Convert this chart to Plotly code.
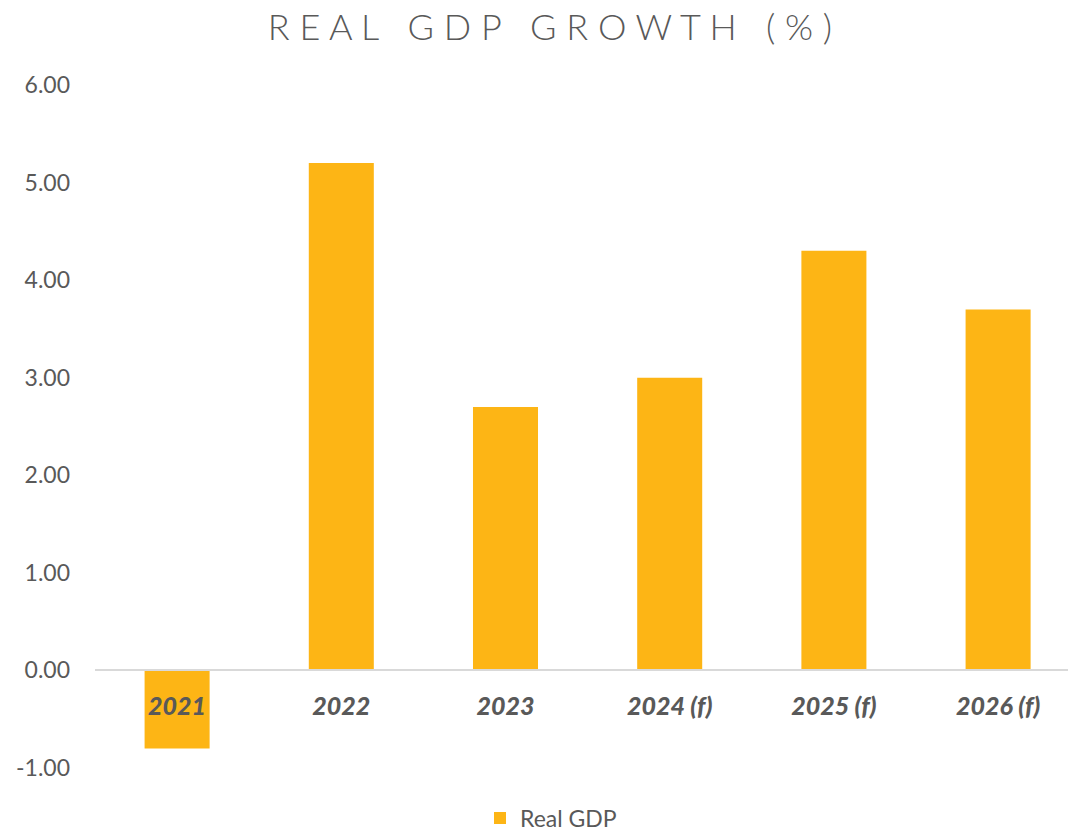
import plotly.graph_objects as go

categories = ["2021", "2022", "2023", "2024 (f)", "2025 (f)", "2026 (f)"]
real_gdp = [-0.8, 5.2, 2.7, 3.0, 4.3, 3.7]
y_ticks = [-1, 0, 1, 2, 3, 4, 5, 6]
y_tick_labels = ["-1.00", "0.00", "1.00", "2.00", "3.00", "4.00", "5.00", "6.00"]

BAR = "#FDB515"
GRAY = "#595959"

title_text = "\u00a0\u00a0\u00a0".join("\u00a0".join(w) for w in "REAL GDP GROWTH (%)".split(" "))

fig = go.Figure()
fig.add_trace(go.Bar(
    x=list(range(len(categories))), y=real_gdp, name="Real GDP",
    marker=dict(color=BAR, line=dict(width=0)),
))

fig.update_layout(
    width=1068, height=835,
    margin=dict(l=95, r=0, t=85, b=67, autoexpand=False),
    paper_bgcolor="white", plot_bgcolor="white",
    bargap=0.604,
    font=dict(family="Lato", color=GRAY),
    title=dict(text=title_text, x=550/1068, xanchor="center", y=1 - 27/835, yanchor="middle",
               font=dict(family="Lato", size=36, color=GRAY, weight=300)),
    showlegend=True,
    legend=dict(orientation="h", x=(551 - 95) / 973, xanchor="center", y=-(818 - 768) / 683, yanchor="middle",
                font=dict(size=23, color=GRAY), itemsizing="constant", itemwidth=30),
    xaxis=dict(
        tickmode="array", tickvals=list(range(len(categories))), ticktext=categories,
        range=[-0.5, -0.5 + 973 / 164.2],
        anchor="free", position=1 / 7,
        showline=True, linecolor="#D9D9D9", linewidth=2,
        showgrid=False, zeroline=False, ticks="",
        tickfont=dict(family="Lato", size=25, color=GRAY, weight=900, style="italic"),
        ticklabelstandoff=14,
    ),
    yaxis=dict(
        range=[-1, 6], tickmode="array", tickvals=y_ticks, ticktext=y_tick_labels,
        showgrid=False, zeroline=False, showline=False, ticks="",
        tickfont=dict(family="Lato", size=23, color=GRAY),
        ticklabelstandoff=24,
    ),
)

fig.write_html("out.html")
